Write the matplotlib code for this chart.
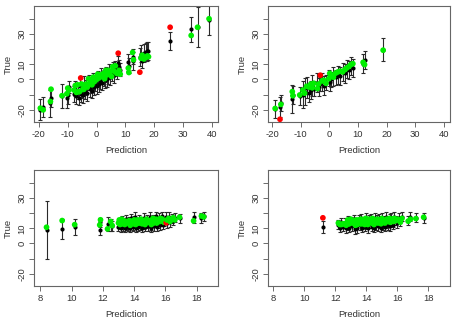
import matplotlib
matplotlib.use("Agg")
import matplotlib.pyplot as plt

plt.rcParams['font.family'] = ['Liberation Sans', 'DejaVu Sans']

# panel 1 (top left)
p1_x = [-19.5, -18.5, -16.0, -15.8, -12.0, -10.3, -10.0, -9.6,
        -7.8, -7.4, -7.0, -6.6, -6.2, -5.9, -5.5, -5.2, -4.8, -4.4, -4.0, -3.6,
        -3.2, -2.8, -2.4, -2.0, -1.6, -1.2, -0.8, -0.4, 0.0, 0.4, 0.8, 1.2,
        1.6, 2.0, 2.4, 2.8, 3.2, 3.6, 4.0, 4.4, 4.8, 5.2, 5.6, 6.0, 6.5, 7.0,
        7.5, 7.8, 8.2,
        11.0, 11.2, 12.5, 12.8, 15.0, 15.4, 15.8, 16.4, 17.0, 17.6, 18.0,
        25.5, 32.8, 35.0, 39.0]
p1_mid = [-20.0, -18.2, -15.6, -12.0, -11.0, -12.0, -10.0, -5.0,
          -9.5, -6.0, -11.0, -8.0, -12.0, -4.0, -9.5, -7.0, -10.5, -3.0, -8.0, -5.5,
          -9.0, -2.0, -6.5, -4.0, -7.5, -1.0, -5.0, -2.5, -4.5, 0.5, -3.0, -1.0,
          2.5, -2.0, 1.0, -0.5, 3.5, 0.0, 2.0, 5.0, 1.5, 4.0, 6.5, 3.0, 7.5, 5.0,
          10.7, 8.0, 6.5,
          11.4, 9.0, 12.0, 15.0, 15.0, 17.0, 12.5, 17.5, 18.0, 18.5, 19.0,
          25.4, 33.0, 34.5, 39.0]
p1_err = [7.0, 6.5, 9.0, 6.0, 8.0, 7.0, 6.0, 4.0,
          5, 5, 5, 5, 5, 5, 5, 5, 5, 5, 5, 5,
          5, 5, 5, 5, 5, 5, 5, 5, 5, 5, 5, 5,
          5, 5, 5, 5, 5, 5, 5, 5, 5, 5, 5, 5, 5, 5,
          5, 5, 4.5,
          5.5, 5, 6, 5, 6, 5.5, 5, 6, 6, 6, 6,
          6, 8, 13, 10]
p1_obs = [-18.9, -20.0, -14.5, -6.4, -10.7, -9.4, -5.7, -7.0,
          -7.0, -4.0, -8.5, -3.5, -8.0, -8.0, 1.0, -3.0, -6.5, -6.5, -4.5, -3.0,
          -5.0, 0.5, -2.5, -1.0, -3.5, 1.5, -1.5, 1.5, 0.0, 3.5, 1.0, 3.0,
          2.0, 2.5, 4.0, 0.5, 6.0, 3.0, 6.0, 4.5, 5.5, 2.0, 8.5, 5.5, 9.0, 4.0,
          17.3, 6.0, 3.5,
          7.5, 4.6, 17.8, 13.0, 4.8, 14.0, 16.0, 13.5, 14.5, 15.5, 15.0,
          34.4, 29.0, 34.4, 40.0]

# panel 2 (top right)
p2_x = [-19.0, -17.3, -17.0, -13.0, -12.8, -10.4, -9.3, -8.7, -8.0, -7.2,
        -6.5, -6.0, -5.5, -4.2, -3.8, -3.2, -2.6, -2.0, -1.2, -0.2, 0.1, 0.6,
        1.4, 2.2, 3.0, 3.8, 4.6, 5.4, 6.0, 6.8, 7.5, 8.2, 11.8, 12.3, 18.8]
p2_mid = [-19.5, -18.0, -15.5, -12.9, -10.0, -11.0, -10.0, -8.0, -5.5, -9.0,
          -7.0, -4.0, -6.0, -2.0, -5.0, -3.0, -1.5, -4.0, -2.0, 1.0, -1.5, 0.0,
          2.0, 1.5, 3.0, 2.5, 5.0, 4.0, 7.0, 6.0, 9.0, 7.5, 10.5, 12.6, 19.5]
p2_err = [6, 6.5, 5, 9, 6, 6, 9, 9, 7, 6,
          6, 7, 5, 6, 6, 4.5, 6, 6, 5, 5, 6, 5,
          6, 5, 6, 6, 6, 6, 6, 6, 6, 6, 6, 6, 7.5]
p2_obs = [-19.1, -26.2, -16.4, -8.0, -10.7, -10.2, -7.0, -9.0, -4.5, -5.0,
          -3.0, -5.5, -2.5, -6.0, -3.0, 2.8, -1.0, -0.5, -2.5, 0.5, 4.0, 3.0,
          1.5, 4.2, 5.0, 5.5, 5.0, 6.5, 7.5, 8.5, 9.8, 10.4, 11.3, 9.8, 19.3]

# panel 3 (bottom left)
p3_x = [8.4, 9.4, 10.2, 11.8, 11.85, 12.3, 12.5, 12.6,
        13.0, 13.05, 13.1, 13.15, 13.2, 13.3, 13.35, 13.4, 13.5, 13.55, 13.6,
        13.7, 13.75, 13.8, 13.9, 13.95, 14.0, 14.05, 14.1, 14.2, 14.25, 14.3,
        14.4, 14.45, 14.5, 14.6, 14.65, 14.7, 14.8, 14.85, 14.9, 15.0, 15.05,
        15.1, 15.2, 15.25, 15.3, 15.4, 15.45, 15.5, 15.6, 15.65, 15.7, 15.8,
        15.85, 15.9, 16.05, 16.1, 16.2, 16.3, 16.4, 16.5, 16.6,
        16.9, 17.8, 18.3, 18.45]
p3_mid = [8.9, 9.6, 10.7, 8.9, 14.0, 12.9, 12.0, 11.5,
          11.0, 14.0, 12.5, 10.5, 15.0, 11.5, 13.5, 10.5, 16.0, 12.0, 11.0,
          14.5, 10.5, 16.5, 12.0, 11.0, 15.0, 17.5, 10.5, 13.0, 11.0, 16.0,
          12.0, 14.5, 10.5, 17.0, 12.5, 11.0, 15.5, 13.5, 11.5, 17.5, 12.0,
          10.5, 16.0, 14.0, 11.5, 18.0, 11.0, 13.0, 17.0, 12.0, 15.0, 18.0,
          12.5, 14.5, 17.5, 13.5, 17.5, 14.0, 16.5, 15.0, 17.0,
          16.5, 17.3, 16.7, 18.0]
p3_err = [19, 6.5, 5.3, 3.5, 3.0, 4.5, 4, 3.5,
          3, 3, 3, 3, 3, 3, 3, 3, 3, 3, 3,
          3, 3, 3, 3, 3, 3, 3, 3, 3, 3, 3,
          3, 3, 3, 3, 3, 3, 3, 3, 3, 3, 3,
          3, 3, 3, 3, 3, 3, 3, 3, 3, 3, 3,
          3, 3, 3, 3, 3, 3, 3, 3, 3,
          3, 3.5, 3.5, 3]
p3_obs = [10.7, 15.1, 12.4, 12.2, 15.6, 9.6, 14.5, 11.8,
          13.5, 15.5, 12.5, 13.0, 16.0, 13.0, 15.0, 12.5, 14.0, 14.5, 13.5,
          15.0, 12.0, 14.5, 14.5, 13.0, 15.5, 15.0, 12.5, 15.5, 13.5, 13.5,
          14.5, 16.0, 13.0, 14.5, 15.0, 12.5, 16.0, 14.0, 14.0, 15.0, 14.5,
          12.5, 16.5, 13.5, 14.0, 16.0, 13.5, 15.5, 16.0, 14.5, 16.5, 16.0,
          15.0, 14.0, 13.6, 15.5, 16.5, 14.5, 16.0, 17.0, 15.5,
          17.3, 14.9, 18.1, 17.5]

# panel 4 (bottom right)
p4_x = [11.2,
        12.2, 12.3, 12.4, 12.5, 12.6, 12.7, 12.8, 12.85, 12.9, 13.0, 13.1,
        13.2, 13.3, 13.35, 13.4, 13.5, 13.6, 13.65, 13.7, 13.8, 13.9, 13.95,
        14.0, 14.1, 14.15, 14.2, 14.3, 14.35, 14.4, 14.5, 14.55, 14.6, 14.7,
        14.75, 14.8, 14.9, 14.95, 15.0, 15.1, 15.15, 15.2, 15.3, 15.35, 15.4,
        15.5, 15.55, 15.6, 15.7, 15.75, 15.8, 15.9, 16.0, 16.1, 16.2, 16.3,
        16.7, 16.85, 17.2, 17.7]
p4_mid = [10.9,
          12.5, 10.5, 14.0, 11.0, 13.5, 10.0, 15.0, 12.0, 10.5, 14.5, 11.5,
          16.0, 9.5, 13.0, 10.0, 15.5, 12.0, 16.5, 10.5, 14.0, 11.0, 17.0,
          12.5, 10.0, 15.5, 13.0, 16.5, 11.0, 14.5, 10.5, 17.0, 12.0, 15.5,
          11.5, 16.5, 13.0, 10.5, 17.0, 12.0, 15.0, 11.0, 17.5, 13.5, 12.0,
          16.5, 11.5, 17.0, 14.0, 12.5, 17.5, 15.0, 13.5, 17.0, 14.5, 17.5,
          15.0, 17.5, 17.0, 17.0]
p4_err = [3.7,
          3, 3, 3, 3, 3, 3, 3, 3, 3, 3, 3,
          3, 3, 3, 3, 3, 3, 3, 3, 3, 3, 3,
          3, 3, 3, 3, 3, 3, 3, 3, 3, 3, 3,
          3, 3, 3, 3, 3, 3, 3, 3, 3, 3, 3,
          3, 3, 3, 3, 3, 3, 3, 3, 3, 3, 3,
          3, 3, 3, 3.3]
p4_obs = [16.9,
          13.5, 12.5, 12.5, 13.0, 13.0, 12.0, 15.5, 13.0, 13.0, 16.0, 13.5,
          15.0, 12.0, 15.5, 12.5, 15.5, 13.0, 16.0, 13.0, 15.5, 12.5, 16.5,
          14.0, 12.5, 16.0, 14.5, 15.5, 13.5, 16.5, 12.5, 15.0, 14.0, 16.0,
          13.5, 15.5, 14.5, 13.0, 16.5, 15.0, 14.0, 13.5, 16.0, 15.0, 14.5,
          16.5, 14.0, 15.5, 16.0, 14.5, 16.5, 15.0, 16.0, 15.5, 14.0, 16.5,
          14.7, 16.0, 16.4, 17.3]

panels = [
    (p1_x, p1_mid, p1_err, p1_obs, (-21.7, 42.1), [-20, -10, 0, 10, 20, 30, 40]),
    (p2_x, p2_mid, p2_err, p2_obs, (-21.5, 42.2), [-20, -10, 0, 10, 20, 30, 40]),
    (p3_x, p3_mid, p3_err, p3_obs, (7.6, 19.36), [8, 10, 12, 14, 16, 18]),
    (p4_x, p4_mid, p4_err, p4_obs, (7.66, 19.4), [8, 10, 12, 14, 16, 18]),
]
boxes = [
    [34 / 454, 1 - 122 / 322, 184 / 454, 116 / 322],
    [268 / 454, 1 - 122 / 322, 182 / 454, 116 / 322],
    [34 / 454, 1 - 286 / 322, 184 / 454, 116 / 322],
    [268 / 454, 1 - 286 / 322, 182 / 454, 116 / 322],
]

txt = '#333333'
fig = plt.figure(figsize=(4.54, 3.22), dpi=100)
for (x, mid, err, obs, xl, xt), box in zip(panels, boxes):
    ax = fig.add_axes(box)
    ax.errorbar(x, mid, yerr=err, fmt='none', ecolor='#2a2a2a', elinewidth=0.8,
                capsize=1.4, capthick=0.8, zorder=2)
    ax.plot(x, mid, 'o', color='black', markersize=3.0, markeredgewidth=0, zorder=3)
    # red where the true value falls outside the interval, green otherwise
    cols = ['#ff0000' if abs(o - m) > e else '#00ee00' for o, m, e in zip(obs, mid, err)]
    ax.scatter(x, obs, c=cols, s=17, linewidths=0, zorder=4)
    ax.set_xlim(*xl)
    ax.set_ylim(-28.0, 48.4)
    ax.set_xticks(xt)
    ax.set_xticklabels([str(v) for v in xt])
    ax.set_yticks([-20, -10, 0, 10, 20, 30, 40])
    ax.set_yticklabels(['-20', '', '0', '10', '', '30', ''], rotation=90, va='center')
    ax.tick_params(length=3.5, width=0.6, colors='#555555', labelcolor=txt,
                   labelsize=6.8, pad=2)
    for s in ax.spines.values():
        s.set_color('#666666')
        s.set_linewidth(0.8)
    ax.set_xlabel('Prediction', fontsize=6.8, color=txt, labelpad=5)
    ax.set_ylabel('True', fontsize=6.8, color=txt, labelpad=3)

fig.savefig('out.png', dpi=100)
